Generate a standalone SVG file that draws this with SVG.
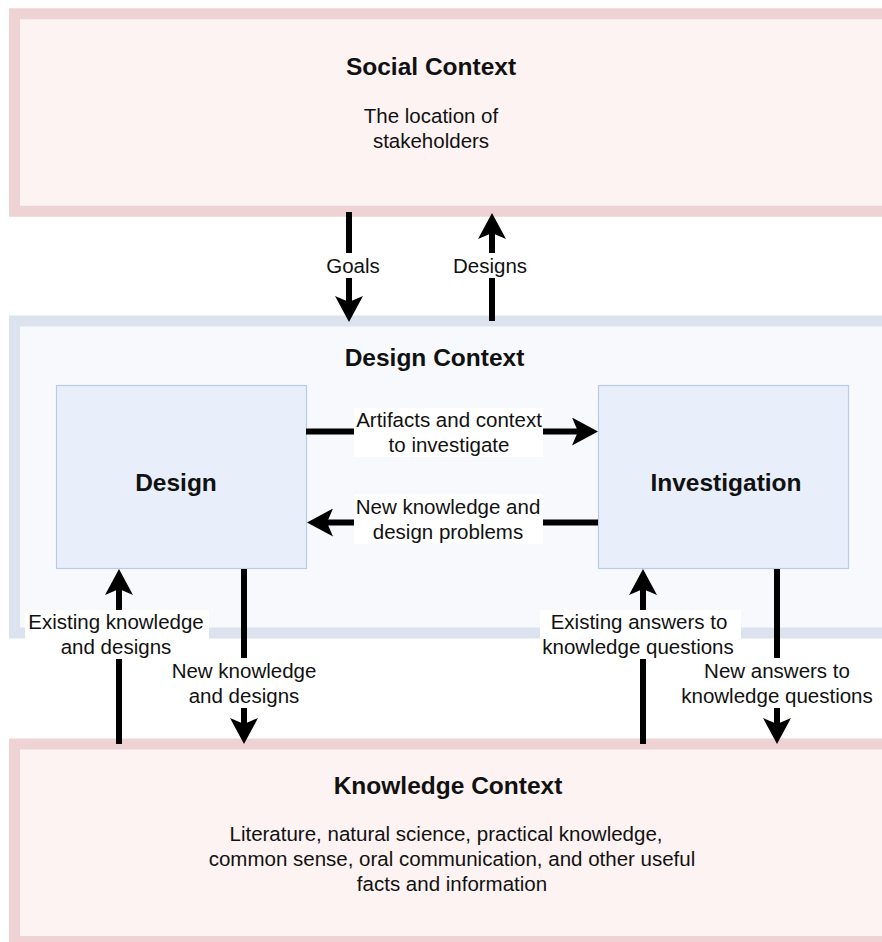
<svg xmlns="http://www.w3.org/2000/svg" width="882" height="942" viewBox="0 0 882 942">
  <style>
    .ctx-red { fill: #fdf3f2; stroke: #efd3d4; stroke-width: 11; }
    .ctx-blue { fill: #f7f9fd; stroke: #dce3ef; stroke-width: 11; }
    .box { fill: #e8eefa; stroke: #b9cbe6; stroke-width: 1.2; }
    .title { font-family: "Liberation Sans", Arial, sans-serif; font-size: 24.5px; font-weight: bold; fill: #111; text-anchor: middle; }
    .body { font-family: "Liberation Sans", Arial, sans-serif; font-size: 20.5px; fill: #111; text-anchor: middle; }
    .edge { stroke: #000; stroke-width: 6; fill: none; marker-end: url(#head); }
    .lbl-bg { fill: #ffffff; }
  </style>
  <defs>
    <!-- classic notched arrowhead; tip sits 18px beyond the line end -->
    <marker id="head" viewBox="0 0 26 28" refX="8" refY="14" markerWidth="26" markerHeight="28" markerUnits="userSpaceOnUse" orient="auto">
      <path d="M0,0 L26,14 L0,28 L6,14 Z" fill="#000"/>
    </marker>
  </defs>

  <!-- context containers -->
  <g id="social-context">
    <rect class="ctx-red" x="14.5" y="13.75" width="900" height="197.5"/>
    <text class="title" x="431" y="75">Social Context</text>
    <text class="body" x="431" y="123">The location of</text>
    <text class="body" x="431" y="148">stakeholders</text>
  </g>

  <g id="design-context">
    <rect class="ctx-blue" x="14.5" y="321" width="900" height="312"/>
    <text class="title" x="434.5" y="366">Design Context</text>
  </g>

  <g id="knowledge-context">
    <rect class="ctx-red" x="14.5" y="744" width="900" height="197.5"/>
    <text class="title" x="448" y="794">Knowledge Context</text>
    <text class="body" x="446" y="841">Literature, natural science, practical knowledge,</text>
    <text class="body" x="452" y="866">common sense, oral communication, and other useful</text>
    <text class="body" x="452" y="891">facts and information</text>
  </g>

  <g id="design">
    <rect class="box" x="56.5" y="385.5" width="250" height="183"/>
    <text class="title" x="176" y="491">Design</text>
  </g>

  <g id="investigation">
    <rect class="box" x="598.5" y="385.5" width="250" height="183"/>
    <text class="title" x="726" y="491">Investigation</text>
  </g>

  <!-- connectors with their labels -->
  <g id="connectors">
    <line class="edge" x1="349" y1="212" x2="349" y2="304"/>
    <line class="edge" x1="492" y1="321" x2="492" y2="231"/>
    <line class="edge" x1="306" y1="431.5" x2="580" y2="431.5"/>
    <line class="edge" x1="598" y1="522.5" x2="325" y2="522.5"/>
    <line class="edge" x1="119" y1="744" x2="119" y2="587"/>
    <line class="edge" x1="244" y1="569" x2="244" y2="726"/>
    <line class="edge" x1="643" y1="744" x2="643" y2="587"/>
    <line class="edge" x1="777" y1="569" x2="777" y2="726"/>

    <g id="label-goals">
      <rect class="lbl-bg" x="324" y="253" width="60" height="25"/>
      <text class="body" x="353" y="273">Goals</text>
    </g>
    <g id="label-designs">
      <rect class="lbl-bg" x="450" y="253" width="82" height="25"/>
      <text class="body" x="490" y="273">Designs</text>
    </g>
    <g id="label-artifacts">
      <rect class="lbl-bg" x="354" y="408" width="189" height="49"/>
      <text class="body" x="449" y="427">Artifacts and context</text>
      <text class="body" x="449" y="452">to investigate</text>
    </g>
    <g id="label-new-knowledge-problems">
      <rect class="lbl-bg" x="354" y="494" width="189" height="50"/>
      <text class="body" x="448" y="514">New knowledge and</text>
      <text class="body" x="448" y="539">design problems</text>
    </g>
    <g id="label-existing-knowledge">
      <rect class="lbl-bg" x="25" y="610" width="184" height="49"/>
      <text class="body" x="116" y="629">Existing knowledge</text>
      <text class="body" x="116" y="654">and designs</text>
    </g>
    <g id="label-new-knowledge">
      <rect class="lbl-bg" x="168" y="658" width="152" height="50"/>
      <text class="body" x="244" y="678">New knowledge</text>
      <text class="body" x="244" y="703">and designs</text>
    </g>
    <g id="label-existing-answers">
      <rect class="lbl-bg" x="540" y="610" width="201" height="49"/>
      <text class="body" x="639" y="629">Existing answers to</text>
      <text class="body" x="638" y="654">knowledge questions</text>
    </g>
    <g id="label-new-answers">
      <rect class="lbl-bg" x="676" y="658" width="202" height="50"/>
      <text class="body" x="777" y="678">New answers to</text>
      <text class="body" x="777" y="703">knowledge questions</text>
    </g>
  </g>
</svg>
